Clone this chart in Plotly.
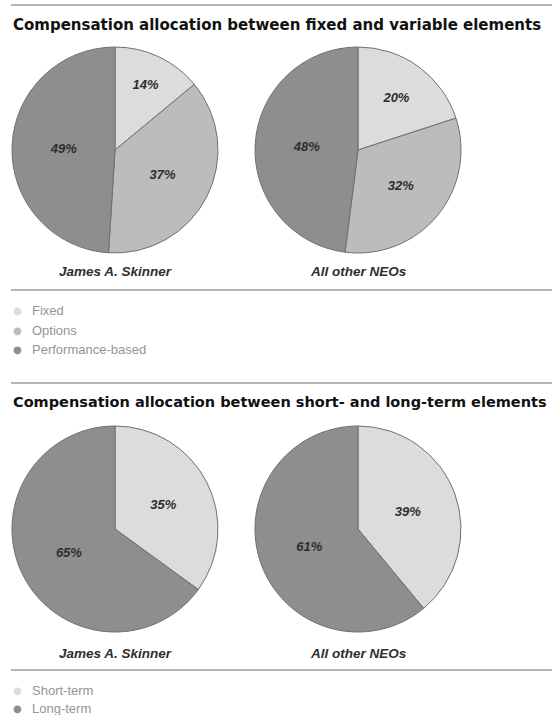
import plotly.graph_objects as go

W, H = 552, 715

# Section 1: fixed vs. variable
mix_labels = ["Fixed", "Options", "Performance-based"]
mix_skinner = [14, 37, 49]
mix_others = [20, 32, 48]
mix_colors = ["#dcdcdc", "#bcbcbc", "#8e8e8e"]

# Section 2: short- vs. long-term
term_labels = ["Short-term", "Long-term"]
term_skinner = [35, 65]
term_others = [39, 61]
term_colors = ["#dcdcdc", "#8e8e8e"]

people = ["James A. Skinner", "All other NEOs"]
section_titles = [
    "Compensation allocation between fixed and variable elements",
    "Compensation allocation between short- and long-term elements",
]


def px(x):
    return x / W


def py(y):
    return 1 - y / H


def pie(values, labels, colors, cx, cy, r):
    return go.Pie(
        values=values,
        labels=labels,
        sort=False,
        direction="clockwise",
        rotation=0,
        marker=dict(colors=colors, line=dict(color="#707070", width=1)),
        texttemplate="%{value}%",
        textposition="inside",
        insidetextorientation="horizontal",
        textfont=dict(family="Liberation Sans", size=13, color="#2e2e2e",
                      weight="bold", style="italic"),
        showlegend=False,
        hoverinfo="label+value",
        domain=dict(x=[px(cx - r), px(cx + r)], y=[py(cy + r), py(cy - r)]),
    )


fig = go.Figure()
R = 103
centers_x = [115, 358]
rows = [
    (150, mix_labels, mix_colors, [mix_skinner, mix_others]),
    (529, term_labels, term_colors, [term_skinner, term_others]),
]
for cy, labels, colors, series in rows:
    for cx, vals in zip(centers_x, series):
        fig.add_trace(pie(vals, labels, colors, cx, cy, R))

annotations = []
shapes = []

def hline(y):
    shapes.append(dict(type="line", xref="paper", yref="paper",
                       x0=px(11), x1=1, y0=py(y), y1=py(y),
                       line=dict(color="#b4b4b4", width=2)))

# section titles
for title, y, size in zip(section_titles, [25, 402], [15, 14.5]):
    annotations.append(dict(text=title, x=px(11), y=py(y), xref="paper", yref="paper",
                            xanchor="left", yanchor="middle", showarrow=False,
                            font=dict(family="DejaVu Sans", size=size,
                                      color="#111111", weight="bold")))

# names under each pie
for y in [271, 653]:
    for cx, name in zip(centers_x, people):
        annotations.append(dict(text=name, x=px(cx), y=py(y), xref="paper", yref="paper",
                                xanchor="center", yanchor="middle", showarrow=False,
                                font=dict(family="Liberation Sans", size=13.5,
                                          color="#2e2e2e", weight="bold", style="italic")))

# legends
def legend(labels, colors, y0, step=19):
    for i, (lab, col) in enumerate(zip(labels, colors)):
        y = y0 + i * step
        annotations.append(dict(text="●", x=px(17), y=py(y), xref="paper", yref="paper",
                                xanchor="center", yanchor="middle", showarrow=False,
                                font=dict(family="DejaVu Sans", size=10, color=col)))
        annotations.append(dict(text=lab, x=px(30), y=py(y), xref="paper", yref="paper",
                                xanchor="left", yanchor="middle", showarrow=False,
                                font=dict(family="Liberation Sans", size=13, color="#959595")))

legend(mix_labels, mix_colors, 311)
legend(term_labels, term_colors, 690, step=18)

for y in [5, 290, 383, 670]:
    hline(y)

fig.update_layout(
    width=W, height=H,
    margin=dict(l=0, r=0, t=0, b=0),
    paper_bgcolor="white",
    plot_bgcolor="white",
    annotations=annotations,
    shapes=shapes,
)

fig.write_html("out.html")
